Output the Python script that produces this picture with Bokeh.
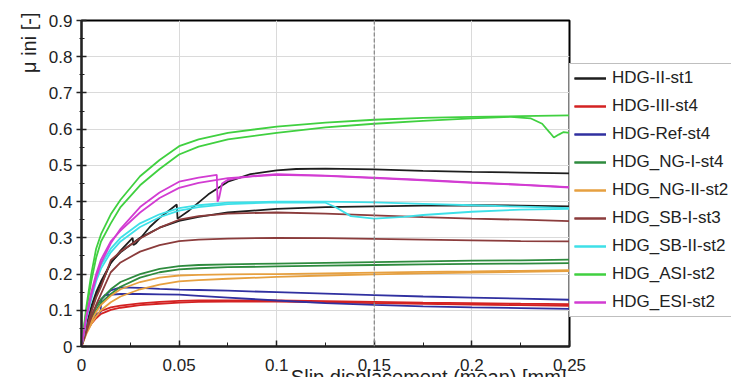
from bokeh.plotting import figure
from bokeh.models import (ColumnDataSource, Legend, LegendItem, FixedTicker, Span,
                          CustomJSTickFormatter, Range1d, Title)
from bokeh.embed import file_html
from bokeh.resources import INLINE

# ---------------- data ----------------
X = [0, 0.0025, 0.005, 0.0075, 0.01, 0.015, 0.02, 0.03, 0.04, 0.05, 0.06, 0.075,
     0.1, 0.125, 0.15, 0.175, 0.2, 0.225, 0.25]

# HDG-II-st1 (black)
ii_a_x = [0, 0.0025, 0.005, 0.0075, 0.01, 0.015, 0.02, 0.0262, 0.0266, 0.028, 0.035, 0.04,
          0.0488, 0.0492, 0.055, 0.065, 0.075, 0.0866, 0.1, 0.11, 0.125, 0.15, 0.175, 0.2, 0.225, 0.25]
ii_a_y = [0, 0.06, 0.11, 0.15, 0.18, 0.23, 0.265, 0.30, 0.28, 0.285, 0.33, 0.355,
          0.392, 0.353, 0.375, 0.42, 0.455, 0.476, 0.486, 0.49, 0.491, 0.489, 0.485, 0.482, 0.48, 0.478]
ii_b_y = [0, 0.055, 0.10, 0.14, 0.17, 0.232, 0.26, 0.30, 0.328, 0.347, 0.358, 0.37,
          0.38, 0.385, 0.387, 0.389, 0.39, 0.389, 0.387]

# HDG-III-st4 (red)
iii_a_y = [0, 0.045, 0.07, 0.087, 0.098, 0.108, 0.113, 0.119, 0.123, 0.126, 0.127, 0.127,
           0.127, 0.125, 0.123, 0.121, 0.12, 0.118, 0.117]
iii_b_y = [0, 0.04, 0.062, 0.078, 0.09, 0.101, 0.107, 0.114, 0.118, 0.121, 0.123, 0.124,
           0.124, 0.122, 0.12, 0.118, 0.116, 0.114, 0.112]

# HDG-Ref-st4 (blue)
ref_a_y = [0, 0.05, 0.085, 0.11, 0.13, 0.155, 0.163, 0.162, 0.159, 0.157, 0.156, 0.154,
           0.15, 0.146, 0.142, 0.138, 0.135, 0.132, 0.129]
ref_b_x = [0, 0.0025, 0.005, 0.008, 0.0097, 0.0102, 0.012, 0.02, 0.03, 0.04, 0.05, 0.06,
           0.075, 0.1, 0.125, 0.15, 0.175, 0.2, 0.225, 0.25]
ref_b_y = [0, 0.05, 0.075, 0.09, 0.094, 0.13, 0.142, 0.145, 0.145, 0.144, 0.143, 0.14,
           0.135, 0.127, 0.12, 0.115, 0.111, 0.108, 0.106, 0.104]

# HDG_NG-I-st4 (dark green)
ng1_a_y = [0, 0.05, 0.085, 0.11, 0.13, 0.158, 0.178, 0.2, 0.214, 0.222, 0.225, 0.227,
           0.229, 0.231, 0.233, 0.235, 0.237, 0.238, 0.24]
ng1_b_y = [0, 0.045, 0.078, 0.10, 0.12, 0.145, 0.165, 0.19, 0.205, 0.213, 0.216, 0.219,
           0.221, 0.223, 0.225, 0.227, 0.228, 0.229, 0.23]

# HDG_NG-II-st2 (orange)
ng2_a_y = [0, 0.04, 0.07, 0.095, 0.115, 0.14, 0.158, 0.178, 0.19, 0.196, 0.198, 0.199,
           0.2, 0.202, 0.204, 0.206, 0.207, 0.209, 0.211]
ng2_b_y = [0, 0.035, 0.062, 0.083, 0.1, 0.122, 0.138, 0.158, 0.171, 0.18, 0.183, 0.187,
           0.192, 0.196, 0.199, 0.202, 0.204, 0.206, 0.208]

# HDG_SB-I-st3 (brown)
sb1_a_y = [0, 0.05, 0.095, 0.135, 0.165, 0.238, 0.262, 0.298, 0.328, 0.35, 0.36, 0.367,
           0.37, 0.367, 0.362, 0.357, 0.353, 0.35, 0.346]
sb1_b_y = [0, 0.04, 0.08, 0.115, 0.145, 0.205, 0.232, 0.262, 0.28, 0.291, 0.295, 0.298,
           0.3, 0.299, 0.297, 0.295, 0.293, 0.291, 0.29]

# HDG_SB-II-st2 (cyan)
sb2_a_y = [0, 0.08, 0.14, 0.19, 0.225, 0.27, 0.30, 0.34, 0.365, 0.382, 0.39, 0.397,
           0.40, 0.40, 0.398, 0.394, 0.39, 0.386, 0.382]
sb2_b_x = [0, 0.0025, 0.005, 0.0075, 0.01, 0.015, 0.02, 0.03, 0.04, 0.05, 0.06, 0.075,
           0.1, 0.125, 0.13, 0.138, 0.15, 0.165, 0.175, 0.2, 0.225, 0.25]
sb2_b_y = [0, 0.075, 0.13, 0.18, 0.215, 0.26, 0.29, 0.33, 0.357, 0.375, 0.385, 0.393,
           0.398, 0.397, 0.385, 0.36, 0.353, 0.358, 0.363, 0.372, 0.378, 0.38]

# HDG_ASI-st2 (light green)
asi_a_y = [0, 0.11, 0.20, 0.27, 0.31, 0.365, 0.405, 0.47, 0.515, 0.553, 0.572, 0.59,
           0.607, 0.618, 0.626, 0.631, 0.634, 0.636, 0.638]
asi_b_x = [0, 0.0025, 0.005, 0.0075, 0.01, 0.015, 0.02, 0.03, 0.04, 0.05, 0.06, 0.075,
           0.1, 0.125, 0.15, 0.175, 0.2, 0.22, 0.23, 0.236, 0.24, 0.242, 0.2445, 0.247, 0.25]
asi_b_y = [0, 0.10, 0.18, 0.245, 0.29, 0.34, 0.385, 0.445, 0.49, 0.53, 0.552, 0.572,
           0.59, 0.605, 0.615, 0.623, 0.63, 0.634, 0.63, 0.615, 0.59, 0.577, 0.585, 0.592, 0.59]

# HDG_ESI-st2 (magenta)
esi_a_x = [0, 0.0025, 0.005, 0.0075, 0.01, 0.015, 0.02, 0.03, 0.04, 0.05, 0.06, 0.0693,
           0.0697, 0.0705, 0.072, 0.075, 0.08, 0.09, 0.1, 0.125, 0.15, 0.175, 0.2, 0.225, 0.25]
esi_a_y = [0, 0.08, 0.14, 0.19, 0.23, 0.285, 0.325, 0.385, 0.425, 0.455, 0.466, 0.474,
           0.40, 0.41, 0.45, 0.46, 0.465, 0.472, 0.476, 0.472, 0.466, 0.46, 0.453, 0.447, 0.44]
esi_b_y = [0, 0.085, 0.15, 0.20, 0.24, 0.29, 0.32, 0.37, 0.41, 0.438, 0.452, 0.465,
           0.474, 0.471, 0.465, 0.459, 0.452, 0.446, 0.439]

LABELS = ["HDG-II-st1", "HDG-III-st4", "HDG-Ref-st4", "HDG_NG-I-st4", "HDG_NG-II-st2",
          "HDG_SB-I-st3", "HDG_SB-II-st2", "HDG_ASI-st2", "HDG_ESI-st2"]
COLORS = ["#1e1e1e", "#d42222", "#3030a0", "#2e8b3e", "#e6a040",
          "#8b3c3c", "#3ee0e8", "#40d040", "#d23cd2"]

X_TICKS = [0, 0.05, 0.1, 0.15, 0.2, 0.25]
X_MINOR = [0.025, 0.075, 0.125, 0.175, 0.225]
Y_TICKS = [0, 0.1, 0.2, 0.3, 0.4, 0.5, 0.6, 0.7, 0.8, 0.9]
Y_MINOR = [0.05, 0.15, 0.25, 0.35, 0.45, 0.55, 0.65, 0.75, 0.85]
X_LABEL = "Slip displacement (mean) [mm]"
Y_LABEL = "μ ini [-]"

series = [
    [(ii_a_x, ii_a_y), (X, ii_b_y)],
    [(X, iii_a_y), (X, iii_b_y)],
    [(X, ref_a_y), (ref_b_x, ref_b_y)],
    [(X, ng1_a_y), (X, ng1_b_y)],
    [(X, ng2_a_y), (X, ng2_b_y)],
    [(X, sb1_a_y), (X, sb1_b_y)],
    [(X, sb2_a_y), (sb2_b_x, sb2_b_y)],
    [(X, asi_a_y), (asi_b_x, asi_b_y)],
    [(esi_a_x, esi_a_y), (X, esi_b_y)],
]

FONT = "Liberation Sans"
TXT = "#222222"

p = figure(frame_width=488, frame_height=326, output_backend="svg", toolbar_location=None,
           x_range=Range1d(0, 0.25), y_range=Range1d(0, 0.9),
           min_border_left=81, min_border_right=0, min_border_top=20, min_border_bottom=0)
p.background_fill_color = "white"
p.border_fill_color = "white"
p.outline_line_color = "black"
p.outline_line_width = 2

items = []
for lab, col, curves in zip(LABELS, COLORS, series):
    rs = []
    for cx, cy in curves:
        src = ColumnDataSource(dict(x=cx, y=cy))
        rs.append(p.line("x", "y", source=src, line_color=col, line_width=1.8))
    items.append(LegendItem(label=lab, renderers=rs))

p.add_layout(Span(location=0.15, dimension="height", line_color="#8c8c8c",
                  line_dash="4 2", line_width=1.3))

fmt = CustomJSTickFormatter(code="return String(Number(tick.toFixed(3)));")

xa = p.xaxis[0]
xa.ticker = FixedTicker(ticks=X_TICKS, minor_ticks=X_MINOR)
xa.formatter = fmt
xa.major_tick_in = 6
xa.major_tick_out = 0
xa.minor_tick_in = 4
xa.minor_tick_out = 0
xa.major_label_standoff = 12

ya = p.yaxis[0]
ya.ticker = FixedTicker(ticks=Y_TICKS, minor_ticks=Y_MINOR)
ya.formatter = fmt
ya.major_tick_in = 5
ya.major_tick_out = 5
ya.minor_tick_in = 3
ya.minor_tick_out = 2
ya.major_label_standoff = 4

for ax in (xa, ya):
    ax.axis_line_color = "#222222"
    ax.axis_line_width = 2
    ax.major_tick_line_color = "#222222"
    ax.minor_tick_line_color = "#222222"
    ax.major_tick_line_width = 1.5
    ax.major_label_text_font = FONT
    ax.major_label_text_font_size = "17px"
    ax.major_label_text_color = TXT

# axis titles aligned to the end of each axis, as in the reference
xt = Title(text=X_LABEL, align="right", offset=3, standoff=-20,
           text_font=FONT, text_font_size="20px", text_font_style="normal", text_color=TXT)
p.add_layout(xt, "below")
yt = Title(text=Y_LABEL, align="right", offset=-8, standoff=12,
           text_font=FONT, text_font_size="20px", text_font_style="normal", text_color=TXT)
p.add_layout(yt, "left")

p.xgrid.grid_line_color = "#dadada"
p.ygrid.grid_line_color = "#dadada"

legend = Legend(items=items, location=(0, 29))
legend.border_line_color = "#808080"
legend.border_line_width = 1.3
legend.background_fill_color = "white"
legend.background_fill_alpha = 1.0
legend.label_text_font = FONT
legend.label_text_font_size = "17px"
legend.label_text_color = TXT
legend.glyph_width = 32
legend.glyph_height = 20
legend.label_height = 20
legend.label_standoff = 6
legend.spacing = 8
legend.padding = 4
legend.margin = 0
p.add_layout(legend, "right")

open("out.html", "w").write(file_html(p, INLINE))
